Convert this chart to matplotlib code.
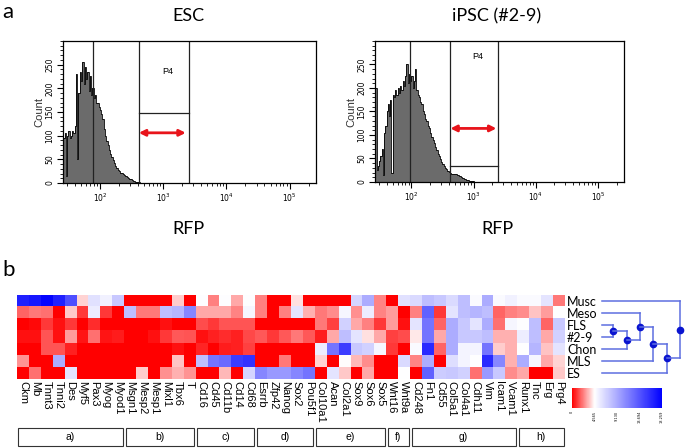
import numpy as np
import matplotlib
matplotlib.use("Agg")
import matplotlib.pyplot as plt
import matplotlib.ticker as ticker
from matplotlib.colors import LinearSegmentedColormap
from matplotlib.patches import Rectangle

W, H = 685, 448

# ---------------- data ----------------
# flow histograms (counts per bin, bins of 0.02 decades starting at 10^1.42)
esc_counts = [95, 105, 15, 100, 110, 95, 100, 110, 105, 120, 230, 50, 190, 235, 215,
              255, 210, 245, 220, 235, 195, 225, 185, 200, 180, 185, 170, 170, 160, 155,
              145, 135, 115, 100, 88, 80, 70, 62, 55, 48, 42, 36, 32, 28, 25, 22, 21, 19,
              16, 14, 12, 10, 9, 8, 6, 5, 4, 3, 3, 2, 2, 1, 1, 1, 1, 0]
ipsc_counts = [200, 25, 35, 45, 55, 70, 15, 105, 120, 150, 165, 140, 175, 20, 185, 180,
               195, 185, 200, 190, 205, 195, 215, 205, 225, 250, 210, 230, 215, 225, 200,
               215, 240, 195, 185, 180, 170, 165, 150, 145, 135, 130, 120, 115, 105, 95,
               90, 82, 75, 68, 60, 55, 48, 42, 38, 33, 30, 27, 24, 22, 20, 18, 17, 16, 17,
               16, 15, 13, 12, 10, 9, 7, 6, 5, 4, 3, 3, 2, 2, 1, 1, 1, 0]
bin_start_log = 1.42
bin_step_log = 0.02

# gates: marker line, P4 gate (left, right), horizontal line, arrow (left, right, y)
esc_gate = dict(marker=77, lo=412, hi=2540, hline=148, arrow=(412, 2280, 106), p4=(1180, 235))
ipsc_gate = dict(marker=95, lo=423, hi=2500, hline=35, arrow=(423, 2330, 114), p4=(1150, 266))

# heatmap
genes = ["Ckm", "Mb", "Tnnt3", "Tnni2", "Des", "Myf5", "Pax3", "Myog", "Myod1",
         "Msgn1", "Mesp2", "Mesp1", "Mixl1", "Tbx6", "T",
         "Cd16", "Cd45", "Cd11b", "Cd14", "Cd68",
         "Esrrb", "Zfp42", "Nanog", "Sox2", "Pou5f1",
         "Col10a1", "Acan", "Col2a1", "Sox9", "Sox6", "Sox5",
         "Wnt16", "Wnt9a",
         "Cd248", "Fn1", "Cd55", "Col5a1", "Col4a1", "Cdh11", "Vim", "Icam1", "Vcam1",
         "Runx1", "Tnc", "Erg", "Prg4"]
groups = ["a)", "b)", "c)", "d)", "e)", "f)", "g)", "h)"]
group_sizes = [9, 6, 5, 5, 6, 2, 9, 4]
samples = ["Musc", "Meso", "FLS", "#2-9", "Chon", "MLS", "ES"]

musc = [16.5, 17, 18, 16.5, 14, 3.8, 6.2, 5.3, 7.5, 0, 0, 0, 0, 3.7, 0, 4.7, 2.3, 4.7, 3.0, 4.7,
        2.3, 0, 0, 4.0, 0, 0, 0, 0, 6.8, 9, 2.4, 0, 6.2, 6.5, 8, 7.5, 6.5, 8, 4.8, 9,
        4.8, 5.3, 4.8, 4.8, 6, 2.2]
meso = [1.8, 2.2, 2.0, 0, 3.6, 1.0, 5.6, 1.0, 0, 8, 2.2, 2.2, 8, 8.5, 11, 3.0, 3.0, 3.0, 2.4, 5.0,
        2.3, 0, 2.3, 6.0, 3.2, 2.2, 2.5, 5.0, 2.6, 5.5, 2.4, 2.8, 0, 2.3, 13, 1.0, 6, 8, 8.5, 8,
        1.8, 2.3, 2.5, 3.5, 2.8, 4.6]
fls = [0, 0.2, 1.0, 0.3, 1.0, 0, 0.8, 0, 0, 0, 0, 0, 0.3, 0, 0, 1.4, 1.0, 1.5, 1.5, 1.5,
       0, 0, 0, 0, 0, 2.2, 1.2, 7, 3.0, 2.3, 1.0, 2.8, 0.3, 6, 12, 1.8, 9, 7.5, 6, 9,
       2.0, 5.0, 4.7, 8, 1.8, 7.5]
ips29 = [0.3, 0.3, 1.5, 0.3, 2.8, 0.4, 2.0, 0.4, 0.5, 0, 0, 0.3, 1.0, 1.6, 1.5, 0.3, 0.6, 0.8, 0.6, 1.3,
         1.6, 1.0, 1.6, 2.2, 1.6, 0.5, 3.0, 8, 6, 4.0, 3.0, 1.2, 1.4, 4.2, 12, 3.0, 9, 7.5, 7.5, 8,
         3.2, 3.2, 5.5, 8, 3.0, 7]
chon = [0, 0, 1.5, 1.5, 0.6, 0, 0, 0, 0, 0, 0, 0, 0, 0.3, 0, 0.7, 0, 0.5, 0.6, 1.2,
        0, 0, 0, 0, 0, 5.5, 12, 15, 7.5, 7, 5.0, 1.0, 0, 4.8, 16, 1.8, 9, 5.2, 5.2, 12,
        3.7, 3.2, 4.6, 8.5, 3.5, 6]
mls = [2.7, 0, 0, 9, 0, 0, 0, 0, 0, 0, 0, 0, 0, 3.5, 0, 8, 12, 12.5, 15, 15.5,
       0, 0, 2.2, 0, 0, 3.8, 0, 4.5, 3.3, 2.5, 0, 0, 6.5, 2.4, 9, 0, 6.3, 5.2, 4.6, 16,
       11, 3.2, 9, 5.0, 3.0, 3.8]
es = [0, 2.0, 0, 0, 6.0, 0, 0, 0, 0, 0, 3.7, 0, 2.6, 3.2, 2.7, 0, 0, 3.3, 0, 6.8,
      11, 10, 10, 11, 12, 0, 6, 3.6, 0, 3.0, 0, 0, 4.6, 0, 13, 7.3, 7.5, 7, 2.0, 10,
      7.5, 2.5, 3.0, 0, 0, 3.6]

cbar_ticks = [0, 4.565, 9.130, 13.694, 18.259]

# dendrogram merges (cluster a, cluster b, height) -- scipy style ids
merges = [(2, 3, 0.134), (7, 4, 0.305), (1, 8, 0.463), (9, 5, 0.622), (10, 6, 0.793), (0, 11, 0.951)]


def px(l, t, r, b):
    return [l / W, 1 - b / H, (r - l) / W, (b - t) / H]


fig = plt.figure(figsize=(W / 100, H / 100), dpi=100)
calibri = ["Lato", "DejaVu Sans"]
arial = ["Liberation Sans", "DejaVu Sans"]

fig.text(2 / W, 1 - 12 / H, "a", fontsize=16, family=calibri, va="center", ha="left")
fig.text(2 / W, 1 - 270 / H, "b", fontsize=16, family=calibri, va="center", ha="left")


def flow_panel(rect, counts, gate, title, title_x):
    ax = fig.add_axes(rect)
    edges = 10 ** (bin_start_log + bin_step_log * np.arange(len(counts) + 1))
    ax.stairs(counts, edges, fill=True, facecolor="#6b6b6b", edgecolor="none")
    ax.stairs(counts, edges, color="black", lw=0.6)
    ax.set_xscale("log")
    ax.set_xlim(26, 262144)
    ax.set_ylim(0, 300)

    ax.axvline(gate["marker"], color="#222222", lw=0.9)
    ax.axvline(gate["lo"], color="#222222", lw=0.9)
    ax.axvline(gate["hi"], color="#222222", lw=0.9)
    ax.plot([gate["lo"], gate["hi"]], [gate["hline"], gate["hline"]], color="#222222", lw=0.9)
    ax.text(gate["p4"][0], gate["p4"][1], "P4", fontsize=6.5, family=arial, ha="center", va="center")
    a0, a1, ay = gate["arrow"]
    ax.annotate("", xy=(a0, ay), xytext=(a1, ay),
                arrowprops=dict(arrowstyle="<|-|>", color="#e8141b", lw=2, mutation_scale=9,
                                shrinkA=0, shrinkB=0))

    ax.set_xticks([1e2, 1e3, 1e4, 1e5])
    ax.xaxis.set_major_formatter(ticker.LogFormatterMathtext())
    ax.xaxis.set_minor_locator(ticker.LogLocator(base=10, subs=np.arange(2, 10), numticks=20))
    ax.xaxis.set_minor_formatter(ticker.NullFormatter())
    ax.set_yticks([0, 50, 100, 150, 200, 250])
    ax.yaxis.set_minor_locator(ticker.MultipleLocator(10))
    ax.tick_params(which="major", direction="out", length=4, width=0.8, labelsize=5.5, pad=2)
    ax.tick_params(which="minor", direction="out", length=2.2, width=0.6)
    for lab in ax.get_yticklabels():
        lab.set_rotation(90)
        lab.set_va("center")
    for s in ax.spines.values():
        s.set_linewidth(0.9)
    ax.set_ylabel("Count", fontsize=8, family=arial, labelpad=1, color="#333333")

    fig.text(title_x / W, 1 - 16 / H, title, fontsize=13, family=calibri, ha="center", va="center")
    fig.text(title_x / W, 1 - 229 / H, "RFP", fontsize=13, family=calibri, ha="center", va="center")
    return ax


flow_panel(px(63, 41, 316, 183), esc_counts, esc_gate, "ESC", 188)
flow_panel(px(375, 41, 624, 182), ipsc_counts, ipsc_gate, "iPSC (#2-9)", 497)

# heatmap
cmap = LinearSegmentedColormap.from_list("rwb", [(0, "#ff0000"), (0.25, "#ffffff"), (1, "#0000ff")])
data = np.array([musc, meso, fls, ips29, chon, mls, es])
axh = fig.add_axes(px(17, 295, 565, 379))
axh.imshow(data, cmap=cmap, vmin=0, vmax=cbar_ticks[-1], aspect="auto",
           extent=(0, len(genes), len(samples), 0), interpolation="nearest")
axh.set_xticks(np.arange(len(genes)) + 0.5)
axh.set_xticklabels(genes, rotation=-90, fontsize=8, family=arial)
axh.yaxis.tick_right()
axh.set_yticks(np.arange(len(samples)) + 0.5)
axh.set_yticklabels(samples, fontsize=9, family=calibri)
axh.tick_params(length=0, pad=1.5)
for s in axh.spines.values():
    s.set_visible(False)

# group boxes
axg = fig.add_axes(px(17, 428, 565, 446))
axg.set_xlim(0, len(genes))
axg.set_ylim(0, 1)
axg.axis("off")
start = 0
for name, size in zip(groups, group_sizes):
    axg.add_patch(Rectangle((start + 0.12, 0), size - 0.24, 1, fill=False, ec="#333333", lw=0.8,
                            clip_on=False))
    axg.text(start + size / 2, 0.5, name, ha="center", va="center", fontsize=7.5, family=arial)
    start += size

# colorbar
axc = fig.add_axes(px(572, 388, 662, 408))
sm = plt.cm.ScalarMappable(cmap=cmap, norm=plt.Normalize(0, cbar_ticks[-1]))
cb = fig.colorbar(sm, cax=axc, orientation="horizontal", ticks=cbar_ticks)
cb.outline.set_visible(False)
cb.ax.set_xticklabels(["0"] + ["%.3f" % t for t in cbar_ticks[1:]], rotation=90, fontsize=2.5)
cb.ax.tick_params(length=0, pad=2)

# dendrogram
axd = fig.add_axes(px(602, 295, 684, 379))
axd.set_xlim(0, 1)
axd.set_ylim(len(samples), 0)
axd.axis("off")
node_y = {i: i + 0.5 for i in range(len(samples))}
node_x = {i: 0.0 for i in range(len(samples))}
line_c = "#5e6fe0"
for k, (a, b, h) in enumerate(merges):
    nid = len(samples) + k
    for c in (a, b):
        axd.plot([node_x[c], h], [node_y[c], node_y[c]], color=line_c, lw=1.1, clip_on=False)
    axd.plot([h, h], [node_y[a], node_y[b]], color=line_c, lw=1.1, clip_on=False)
    node_y[nid] = (node_y[a] + node_y[b]) / 2
    node_x[nid] = h
    axd.plot(h, node_y[nid], "o", color="#0a14d0", ms=4.5, clip_on=False)

fig.savefig("out.png", dpi=100)
